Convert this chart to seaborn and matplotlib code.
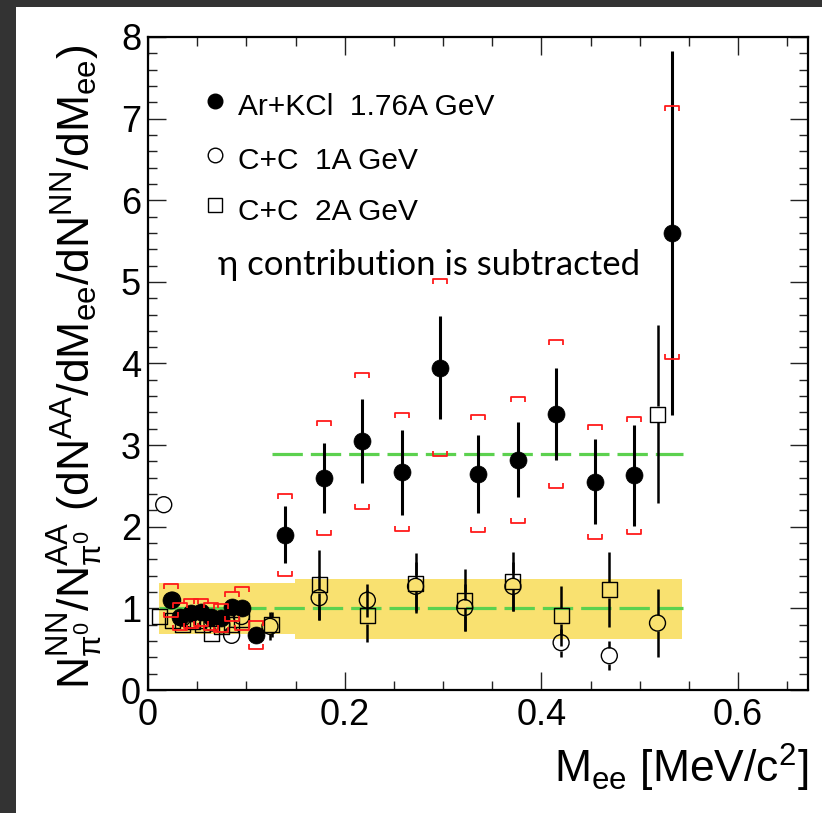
import numpy as np
import pandas as pd
import matplotlib
matplotlib.use("Agg")
import matplotlib.pyplot as plt
from matplotlib.path import Path
from matplotlib.ticker import MultipleLocator, FormatStrFormatter
import seaborn as sns

# Ar+KCl 1.76A GeV (filled circles): value, stat error, sys error
ar_x = [0.023, 0.033, 0.044, 0.054, 0.064, 0.074, 0.085, 0.096, 0.110,
        0.139, 0.179, 0.218, 0.258, 0.297, 0.336, 0.376, 0.415, 0.454, 0.494, 0.533]
ar_y = [1.10, 0.90, 0.94, 0.95, 0.90, 0.88, 1.02, 1.00, 0.67,
        1.90, 2.60, 3.05, 2.67, 3.95, 2.65, 2.82, 3.38, 2.55, 2.63, 5.60]
ar_stat = [0.05, 0.05, 0.05, 0.05, 0.05, 0.05, 0.05, 0.06, 0.08,
           0.35, 0.43, 0.52, 0.52, 0.63, 0.48, 0.46, 0.56, 0.52, 0.62, 2.23]
ar_sys = [0.20, 0.16, 0.18, 0.17, 0.17, 0.17, 0.18, 0.26, 0.17,
          0.50, 0.70, 0.83, 0.72, 1.08, 0.72, 0.77, 0.91, 0.70, 0.72, 1.55]

# C+C 1A GeV (open circles)
cc1_x = [0.016, 0.025, 0.035, 0.045, 0.055, 0.065, 0.075, 0.085, 0.095, 0.124,
         0.174, 0.223, 0.272, 0.322, 0.371, 0.420, 0.469, 0.518]
cc1_y = [2.27, 1.10, 0.88, 0.86, 0.85, 0.82, 0.80, 0.67, 0.90, 0.78,
         1.13, 1.10, 1.27, 1.01, 1.27, 0.58, 0.42, 0.82]
cc1_err = [0.0, 0.08, 0.07, 0.07, 0.07, 0.07, 0.08, 0.08, 0.10, 0.17,
           0.27, 0.20, 0.30, 0.29, 0.30, 0.17, 0.18, 0.42]

# C+C 2A GeV (open squares)
cc2_x = [0.012, 0.025, 0.035, 0.045, 0.055, 0.065, 0.075, 0.085, 0.095, 0.126,
         0.174, 0.223, 0.272, 0.322, 0.371, 0.420, 0.469, 0.518]
cc2_y = [0.90, 0.85, 0.80, 0.84, 0.80, 0.69, 0.78, 0.80, 0.86, 0.80,
         1.29, 0.91, 1.31, 1.10, 1.33, 0.91, 1.23, 3.38]
cc2_err = [0.08, 0.07, 0.07, 0.07, 0.07, 0.07, 0.07, 0.08, 0.08, 0.15,
           0.43, 0.32, 0.37, 0.38, 0.36, 0.37, 0.46, 1.09]

# yellow uncertainty band (two pieces) and green reference levels
band_x0 = [0.011, 0.149]
band_x1 = [0.149, 0.543]
band_lo = [0.69, 0.63]
band_hi = [1.31, 1.36]
ref_y = [1.0, 2.89]
ref_x0 = [0.011, 0.126]
ref_x1 = [0.544, 0.544]

legend_labels = ["Ar+KCl  1.76A GeV", "C+C  1A GeV", "C+C  2A GeV"]

sns.set_theme(style="ticks")
plt.rcParams['font.family'] = ['Liberation Sans', 'DejaVu Sans']
plt.rcParams['mathtext.fontset'] = 'custom'
plt.rcParams['mathtext.rm'] = 'Liberation Sans'
plt.rcParams['mathtext.it'] = 'Liberation Sans:italic'
for k in ('text.color', 'axes.labelcolor', 'xtick.color', 'ytick.color'):
    plt.rcParams[k] = 'black'

fig = plt.figure(figsize=(8.22, 8.13), dpi=100, facecolor='#333333')
# white canvas inside the dark frame
fig.patches.append(plt.Rectangle((16/822, 0), 1, 1 - 7/813, transform=fig.transFigure,
                                 facecolor='white', edgecolor='none', zorder=-10))
ax = fig.add_axes([148/822, 1 - 690/813, 660/822, 653/813])
ax.set_facecolor('white')
ax.set_xlim(0, 0.671)
ax.set_ylim(0, 8)

# band and reference lines
for x0, x1, lo, hi in zip(band_x0, band_x1, band_lo, band_hi):
    ax.fill_between([x0, x1], lo, hi, color='#f9e170', lw=0, zorder=1)
for y, x0, x1 in zip(ref_y, ref_x0, ref_x1):
    ax.plot([x0, x1], [y, y], color='#5cd14f', lw=2.3, dashes=(9.5, 2.5), zorder=2)

ar = pd.DataFrame({'x': ar_x, 'y': ar_y, 'stat': ar_stat, 'sys': ar_sys})
cc1 = pd.DataFrame({'x': cc1_x, 'y': cc1_y, 'err': cc1_err})
cc2 = pd.DataFrame({'x': cc2_x, 'y': cc2_y, 'err': cc2_err})

# gap (data units) so error lines stop at the open marker edge
px_per_unit = ax.transData.transform((0, 1))[1] - ax.transData.transform((0, 0))[1]
gap = 8.0 / px_per_unit

for df in (cc1, cc2):
    for _, r in df.iterrows():
        if r.err > gap:
            ax.vlines(r.x, r.y + gap, r.y + r.err, color='black', lw=1.8, zorder=3)
            ax.vlines(r.x, r.y - r.err, r.y - gap, color='black', lw=1.8, zorder=3)

sns.scatterplot(data=cc1, x='x', y='y', marker='o', s=132, facecolor='none',
                edgecolor='black', linewidth=1.0, ax=ax, zorder=4, legend=False)
sns.scatterplot(data=cc2, x='x', y='y', marker='s', s=117, facecolor='none',
                edgecolor='black', linewidth=1.0, ax=ax, zorder=4, legend=False)

ax.vlines(ar.x, ar.y - ar.stat, ar.y + ar.stat, color='black', lw=2.2, zorder=5)
sns.scatterplot(data=ar, x='x', y='y', marker='o', s=150, color='black',
                edgecolor='black', linewidth=0.5, ax=ax, zorder=6, legend=False)

# systematic brackets
top_br = Path([(-1, -0.75), (-1, 0), (1, 0), (1, -0.75)],
              [Path.MOVETO, Path.LINETO, Path.LINETO, Path.LINETO])
bot_br = Path([(-1, 0.75), (-1, 0), (1, 0), (1, 0.75)],
              [Path.MOVETO, Path.LINETO, Path.LINETO, Path.LINETO])
ax.plot(ar.x, ar.y + ar.sys, ls='none', marker=top_br, ms=9.4, mfc='none',
        mec='#ff1a1a', mew=1.3, zorder=7)
ax.plot(ar.x, ar.y - ar.sys, ls='none', marker=bot_br, ms=9.4, mfc='none',
        mec='#ff1a1a', mew=1.3, zorder=7)

# ticks in ROOT style
ax.xaxis.set_major_locator(MultipleLocator(0.2))
ax.xaxis.set_minor_locator(MultipleLocator(0.05))
ax.yaxis.set_major_locator(MultipleLocator(1))
ax.yaxis.set_minor_locator(MultipleLocator(0.2))
ax.xaxis.set_major_formatter(FormatStrFormatter('%g'))
ax.yaxis.set_major_formatter(FormatStrFormatter('%g'))
ax.tick_params(which='both', direction='in', top=True, right=True, width=1,
               color='#222222', labelsize=26, labelcolor='black')
ax.tick_params(which='major', length=13)
ax.tick_params(which='minor', length=6.5)
ax.tick_params(axis='x', pad=6)
ax.tick_params(axis='y', pad=5)
for s in ax.spines.values():
    s.set_linewidth(1.6)
    s.set_color('black')
ax.set_xlabel('')
ax.set_ylabel('')

# legend drawn by hand
leg_y = [0.880, 0.798, 0.720]
leg_style = [dict(marker='o', mfc='black'), dict(marker='o', mfc='none'), dict(marker='s', mfc='none')]
for lab, yy, st in zip(legend_labels, leg_y, leg_style):
    ax.plot([0.101], [yy + 0.022], transform=ax.transAxes, ls='none', ms=10.5,
            mec='black', mew=1.0, zorder=8, **st)
    ax.text(0.136, yy, lab, transform=ax.transAxes, fontsize=21.5, va='baseline', ha='left')

ax.text(0.106, 0.6355, 'η contribution is subtracted', transform=ax.transAxes,
        fontsize=25, va='baseline', ha='left', family=['Lato', 'DejaVu Sans'])

fig.text(808/822, 1 - 783/813, r'$\mathrm{M_{ee}\ [MeV/c^{2}]}$', fontsize=32,
         ha='right', va='baseline')
fig.text(75/822, 1 - 367/813,
         r'$\mathrm{N^{NN}_{\pi^0}/N^{AA}_{\pi^0}\ (dN^{AA}/dM_{ee}/dN^{NN}/dM_{ee})}$',
         fontsize=32, rotation=90, ha='center', va='center')

fig.savefig('out.png', dpi=100, facecolor=fig.get_facecolor())
